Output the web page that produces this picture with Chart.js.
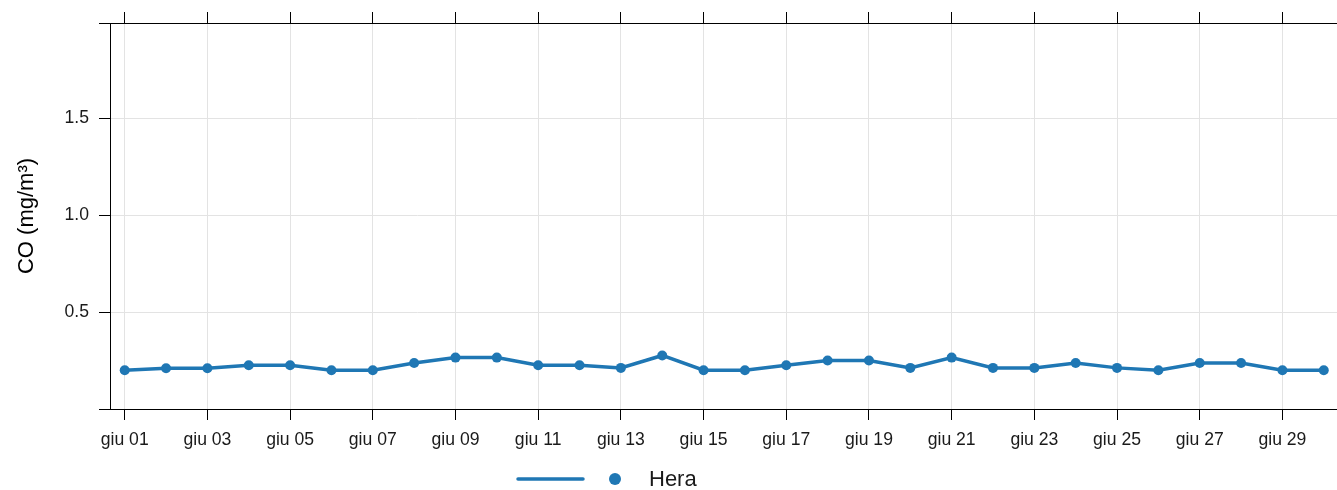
<!DOCTYPE html>
<html>
<head>
<meta charset="utf-8">
<title>CO - giugno</title>
<script src="https://cdn.jsdelivr.net/npm/chart.js@4/dist/chart.umd.min.js"></script>
<style>
  html, body { margin: 0; padding: 0; background: #fff; }
  #wrap { position: relative; width: 1337px; height: 490px; }
</style>
</head>
<body>
<div id="wrap"><canvas id="results"></canvas></div>
<script>
'use strict';

// days of June and the daily CO values (mg/m3) for the Hera station
var days = [1, 2, 3, 4, 5, 6, 7, 8, 9, 10, 11, 12, 13, 14, 15,
  16, 17, 18, 19, 20, 21, 22, 23, 24, 25, 26, 27, 28, 29, 30];
var coHera = [0.20, 0.21, 0.21, 0.226, 0.226, 0.20, 0.20, 0.237, 0.265, 0.265,
  0.226, 0.226, 0.212, 0.276, 0.20, 0.20, 0.226, 0.25, 0.25, 0.212,
  0.265, 0.212, 0.212, 0.237, 0.212, 0.20, 0.237, 0.237, 0.20, 0.20];
var seriesName = 'Hera';

// tick positions
var dayTicks = [1, 3, 5, 7, 9, 11, 13, 15, 17, 19, 21, 23, 25, 27, 29];
var coTicks = [0, 0.5, 1.0, 1.5, 1.99];
var coLabelled = [0.5, 1.0, 1.5];

var blue = '#1f77b4';
var gridGrey = '#e3e3e3';
var fontFamily = "'Liberation Sans', Arial, sans-serif";

function dayLabel(value) {
  var d = String(value);
  if (d.length < 2) d = '0' + d;
  return 'giu ' + d;
}

function setTicks(list) {
  return function (scale) {
    scale.ticks = list.map(function (v) { return { value: v }; });
  };
}

// legend with a line key and a point key, drawn below the plot
var keyLegend = {
  id: 'keyLegend',
  afterDraw: function (chart) {
    var ctx = chart.ctx;
    var y = 479;
    ctx.save();
    ctx.strokeStyle = blue;
    ctx.lineWidth = 3.5;
    ctx.lineCap = 'round';
    ctx.beginPath();
    ctx.moveTo(518, y);
    ctx.lineTo(583, y);
    ctx.stroke();
    ctx.fillStyle = blue;
    ctx.beginPath();
    ctx.arc(615, y, 6, 0, Math.PI * 2);
    ctx.fill();
    ctx.fillStyle = '#1a1a1a';
    ctx.font = '22px ' + fontFamily;
    ctx.textBaseline = 'middle';
    ctx.textAlign = 'left';
    ctx.fillText(seriesName, 649, y + 1);
    ctx.restore();
  }
};

function createLineChart() {
  var context = document.getElementById('results').getContext('2d');
  var points = days.map(function (d, i) { return { x: d, y: coHera[i] }; });

  return new Chart(context, {
    type: 'line',
    data: {
      datasets: [{
        label: seriesName,
        data: points,
        borderColor: blue,
        backgroundColor: blue,
        borderWidth: 3.5,
        pointRadius: 5,
        pointBorderWidth: 0,
        pointBackgroundColor: blue,
        lineTension: 0,
        fill: false
      }]
    },
    options: {
      responsive: true,
      maintainAspectRatio: false,
      animation: false,
      layout: { padding: 0, autoPadding: false },
      plugins: {
        legend: { display: false },
        tooltip: { enabled: false }
      },
      scales: {
        x: {
          type: 'linear',
          position: 'bottom',
          min: 0.644,
          max: 30.32,
          afterBuildTicks: setTicks(dayTicks),
          afterFit: function (scale) {
            scale.height = 81;
            scale.paddingLeft = 0;
            scale.paddingRight = 0;
          },
          grid: {
            color: gridGrey,
            tickColor: '#000',
            tickLength: 11,
            lineWidth: 1
          },
          border: { color: '#000', width: 1 },
          ticks: {
            color: '#1a1a1a',
            padding: 10,
            maxRotation: 0,
            autoSkip: false,
            font: { family: fontFamily, size: 17.6 },
            callback: function (v) { return dayLabel(v); }
          }
        },
        xTop: {
          type: 'linear',
          position: 'top',
          min: 0.644,
          max: 30.32,
          afterBuildTicks: setTicks(dayTicks),
          afterFit: function (scale) {
            scale.height = 23;
            scale.paddingLeft = 0;
            scale.paddingRight = 0;
          },
          grid: {
            drawOnChartArea: false,
            tickColor: '#000',
            tickLength: 11
          },
          border: { color: '#000', width: 1 },
          ticks: { display: false }
        },
        y: {
          type: 'linear',
          min: 0,
          max: 1.99,
          afterBuildTicks: setTicks(coTicks),
          afterFit: function (scale) { scale.width = 110; },
          grid: {
            color: gridGrey,
            tickColor: '#000',
            tickLength: 11,
            lineWidth: 1
          },
          border: { color: '#000', width: 1 },
          ticks: {
            color: '#1a1a1a',
            padding: 10,
            autoSkip: false,
            font: { family: fontFamily, size: 17.6 },
            callback: function (v) {
              return coLabelled.indexOf(v) >= 0 ? v.toFixed(1) : '';
            }
          },
          title: {
            display: true,
            text: 'CO (mg/m³)',
            color: '#000',
            padding: { top: 14, bottom: 0 },
            font: { family: fontFamily, size: 22, lineHeight: 1.2 }
          }
        }
      }
    },
    plugins: [keyLegend]
  });
}

createLineChart();
</script>
</body>
</html>
